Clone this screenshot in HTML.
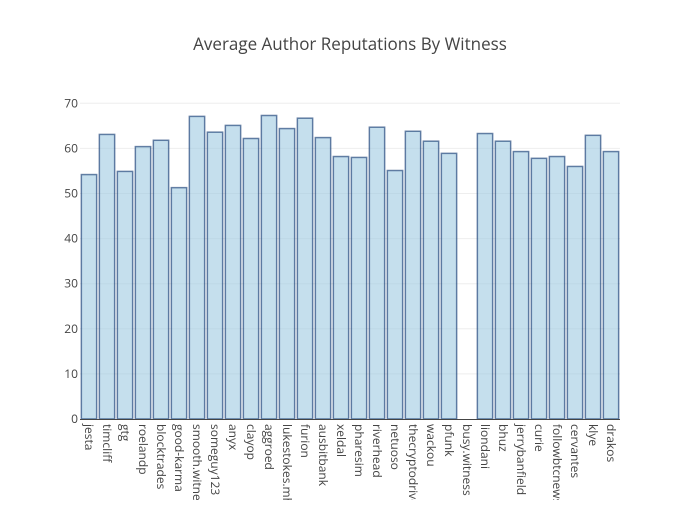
<!DOCTYPE html>
<html><head><meta charset="utf-8"><style>
body{margin:0;background:#fff}
svg{font-family:"Open Sans","Liberation Sans",sans-serif}
</style></head><body>
<svg id="chart" width="700" height="500">
<text x="350" y="50" text-anchor="middle" font-size="17" fill="#444">Average Author Reputations By Witness</text>
<g id="grid"></g><g id="bars"></g><g id="xlabels"></g><g id="ylabels"></g>
<line x1="80" y1="419.5" x2="620" y2="419.5" stroke="#444" stroke-width="1"/>
</svg>
<script>
const categories=["jesta","timcliff","gtg","roelandp","blocktrades","good-karma","smooth.witness","someguy123","anyx","clayop","aggroed","lukestokes.mhth","furion","ausbitbank","xeldal","pharesim","riverhead","netuoso","thecryptodrive","wackou","pfunk","busy.witness","liondani","bhuz","jerrybanfield","curie","followbtcnews","cervantes","klye","drakos"];
const values=[54.2,63.1,54.9,60.4,61.8,51.3,67.1,63.6,65.1,62.2,67.3,64.4,66.7,62.4,58.2,58.0,64.7,55.1,63.8,61.6,58.9,0,63.3,61.6,59.3,57.8,58.2,56.0,62.9,59.3];
const yTicks=[0,10,20,30,40,50,60,70];
const NS="http://www.w3.org/2000/svg";
const x0=80,x1=620,yZero=419,yScale=4.51;
const band=(x1-x0)/categories.length;
const xPos=i=>x0+i*band;
const yPos=v=>yZero-v*yScale;
const grid=document.getElementById('grid'),bars=document.getElementById('bars'),xl=document.getElementById('xlabels'),yl=document.getElementById('ylabels');
yTicks.forEach(t=>{
 if(t>0){const l=document.createElementNS(NS,'line');
 l.setAttribute('x1',x0);l.setAttribute('x2',x1);l.setAttribute('y1',yPos(t));l.setAttribute('y2',yPos(t));
 l.setAttribute('stroke','#eee');l.setAttribute('stroke-width','1');
 
 
 grid.appendChild(l);}
 const tx=document.createElementNS(NS,'text');
 tx.setAttribute('x',x0-2);tx.setAttribute('y',yPos(t)+4);tx.setAttribute('text-anchor','end');
 tx.setAttribute('font-size','12');tx.setAttribute('fill','#444');tx.textContent=t;
 
 
 yl.appendChild(tx);
});
categories.forEach((c,i)=>{
 const w=band*0.85,bx=xPos(i)+(band-w)/2;
 if(values[i]>0){
 const r=document.createElementNS(NS,'rect');
 r.setAttribute('x',bx);r.setAttribute('y',yPos(values[i]));r.setAttribute('width',w);r.setAttribute('height',values[i]*yScale);
 r.setAttribute('fill','rgba(158,202,225,0.6)');r.setAttribute('stroke','rgba(8,48,107,0.6)');r.setAttribute('stroke-width','1.5');
 
 
 bars.appendChild(r);}
 const cx=xPos(i)+band/2;
 const t=document.createElementNS(NS,'text');
 t.setAttribute('transform','translate('+(cx-4)+',424) rotate(90)');
 t.setAttribute('font-size','12');t.setAttribute('fill','#444');t.textContent=c;
 
 
 xl.appendChild(t);
});
</script>
</body></html>
